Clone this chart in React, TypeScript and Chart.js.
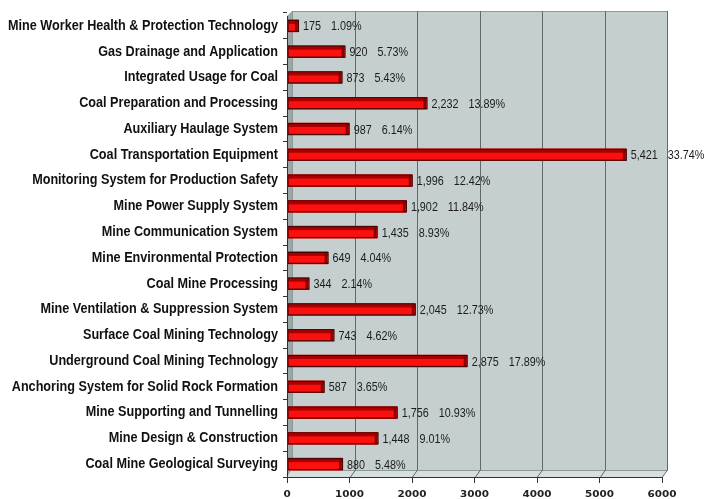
import React, { useEffect, useRef } from "react";
import { Chart, registerables } from "chart.js";
Chart.register(...registerables);

const categories = [
  "Mine Worker Health & Protection Technology",
  "Gas Drainage and Application",
  "Integrated Usage for Coal",
  "Coal Preparation and Processing",
  "Auxiliary Haulage System",
  "Coal Transportation Equipment",
  "Monitoring System for Production Safety",
  "Mine Power Supply System",
  "Mine Communication System",
  "Mine Environmental Protection",
  "Coal Mine Processing",
  "Mine Ventilation & Suppression System",
  "Surface Coal Mining Technology",
  "Underground Coal Mining Technology",
  "Anchoring System for Solid Rock Formation",
  "Mine Supporting and Tunnelling",
  "Mine Design & Construction",
  "Coal Mine Geological Surveying",
];
const values = [175, 920, 873, 2232, 987, 5421, 1996, 1902, 1435, 649, 344, 2045, 743, 2875, 587, 1756, 1448, 880];
const percents = ["1.09%", "5.73%", "5.43%", "13.89%", "6.14%", "33.74%", "12.42%", "11.84%", "8.93%", "4.04%", "2.14%", "12.73%", "4.62%", "17.89%", "3.65%", "10.93%", "9.01%", "5.48%"];
const xTicks = [0, 1000, 2000, 3000, 4000, 5000, 6000];

const SANS = '"Liberation Sans", Arial, sans-serif';
const DEPTH_X = 5;
const DEPTH_Y = 7;
const LABEL_RIGHT = 278;
const LABEL_WIDTH = 270;

const wallPlugin = {
  id: "wall",
  beforeDatasetsDraw(chart: any) {
    const { ctx, chartArea, scales } = chart;
    const { left: L, right: R, top: T, bottom: B } = chartArea;
    ctx.save();
    // back wall
    ctx.fillStyle = "#c5cfcf";
    ctx.fillRect(L + DEPTH_X, T - 2, R - L, B - DEPTH_Y - T + 2);
    // left side
    ctx.fillStyle = "#9ba7a7";
    ctx.beginPath();
    ctx.moveTo(L, T + 3);
    ctx.lineTo(L + DEPTH_X, T - 2);
    ctx.lineTo(L + DEPTH_X, B - DEPTH_Y);
    ctx.lineTo(L, B);
    ctx.closePath();
    ctx.fill();
    // floor
    ctx.fillStyle = "#d6dede";
    ctx.beginPath();
    ctx.moveTo(L, B);
    ctx.lineTo(L + DEPTH_X, B - DEPTH_Y);
    ctx.lineTo(R + DEPTH_X, B - DEPTH_Y);
    ctx.lineTo(R, B);
    ctx.closePath();
    ctx.fill();
    // wall border
    ctx.strokeStyle = "#8d9999";
    ctx.lineWidth = 1;
    ctx.strokeRect(L + DEPTH_X + 0.5, T - 2 + 0.5, R - L, B - DEPTH_Y - T + 2);
    // grid lines
    ctx.strokeStyle = "#5f6a6a";
    xTicks.forEach((v) => {
      if (v === 0) return;
      const x = Math.round(scales.x.getPixelForValue(v)) + 0.5;
      ctx.beginPath();
      ctx.moveTo(x + DEPTH_X, T - 2);
      ctx.lineTo(x + DEPTH_X, B - DEPTH_Y);
      ctx.lineTo(x, B);
      ctx.stroke();
    });
    // axes
    ctx.strokeStyle = "#333";
    ctx.beginPath();
    ctx.moveTo(L + 0.5, T + 3);
    ctx.lineTo(L + 0.5, B + 0.5);
    ctx.lineTo(R, B + 0.5);
    ctx.stroke();
    ctx.restore();
  },
  afterDatasetsDraw(chart: any) {
    const { ctx, scales } = chart;
    const meta = chart.getDatasetMeta(0);
    ctx.save();
    // 3D faces of bars
    meta.data.forEach((el: any) => {
      const top = el.y - el.height / 2;
      const bot = el.y + el.height / 2;
      const x0 = el.base;
      const x1 = el.x;
      ctx.fillStyle = "#a80000";
      ctx.fillRect(x0 + 1, top + 1, x1 - x0 - 1, 3);
      ctx.fillStyle = "#8a0000";
      ctx.fillRect(x1 - 3, top + 1, 2.5, bot - top - 1.5);
      ctx.strokeStyle = "#4a0303";
      ctx.lineWidth = 1.2;
      ctx.strokeRect(x0 + 0.5, top + 0.5, x1 - x0, bot - top - 1);
    });
    // value labels
    ctx.font = "13px " + SANS;
    ctx.fillStyle = "#1c1c1c";
    ctx.textBaseline = "middle";
    const f = 0.83;
    meta.data.forEach((el: any, i: number) => {
      const txt = values[i].toLocaleString("en-US");
      const x = el.x + 5;
      ctx.save();
      ctx.translate(x, el.y + 1);
      ctx.scale(f, 1);
      ctx.fillText(txt, 0, 0);
      const w = ctx.measureText(txt).width;
      ctx.fillText(percents[i], w + 12, 0);
      ctx.restore();
    });
    ctx.restore();
  },
  afterDraw(chart: any) {
    const { ctx, scales } = chart;
    ctx.save();
    // category labels (condensed bold)
    ctx.font = "bold 14px " + SANS;
    ctx.fillStyle = "#111";
    ctx.textAlign = "right";
    ctx.textBaseline = "middle";
    let maxW = 0;
    categories.forEach((c) => (maxW = Math.max(maxW, ctx.measureText(c).width)));
    const f = LABEL_WIDTH / maxW;
    categories.forEach((c, i) => {
      const y = scales.y.getPixelForValue(i);
      ctx.save();
      ctx.translate(LABEL_RIGHT, y);
      ctx.scale(f, 1);
      ctx.fillText(c, 0, 0);
      ctx.restore();
    });
    // x tick labels (wide bold)
    ctx.font = "bold 8px " + '"DejaVu Sans", sans-serif';
    ctx.fillStyle = "#222";
    ctx.textAlign = "center";
    xTicks.forEach((v) => {
      const x = scales.x.getPixelForValue(v);
      ctx.save();
      ctx.translate(x, 495);
      ctx.scale(1.3, 1);
      ctx.fillText(String(v), 0, 0);
      ctx.restore();
    });
    ctx.restore();
  },
};

export default function App() {
  const ref = useRef<HTMLCanvasElement>(null);
  useEffect(() => {
    document.body.style.margin = "0";
    const chart = new Chart(ref.current!, {
      type: "bar",
      data: {
        labels: categories,
        datasets: [
          {
            data: values,
            backgroundColor: "#fb1010",
            borderWidth: 0,
            barThickness: 12,
          },
        ],
      },
      options: {
        indexAxis: "y",
        animation: false,
        responsive: false,
        layout: { padding: { left: 0, top: 13, right: 45, bottom: 0 } },
        plugins: { legend: { display: false }, tooltip: { enabled: false } },
        scales: {
          x: {
            min: 0,
            max: 6000,
            afterBuildTicks: (s: any) => {
              s.ticks = xTicks.map((v) => ({ value: v }));
            },
            afterFit: (s: any) => {
              s.height = 22;
            },
            border: { display: false },
            grid: { drawOnChartArea: false, tickLength: 6, color: "#333" },
            ticks: { display: false },
          },
          y: {
            afterFit: (s: any) => {
              s.width = 287;
            },
            border: { display: false },
            grid: { drawOnChartArea: false, tickLength: 4, color: "#333", offset: true },
            ticks: { display: false, autoSkip: false },
          },
        },
      },
      plugins: [wallPlugin],
    } as any);
    return () => chart.destroy();
  }, []);
  return <canvas ref={ref} width={707} height={499} style={{ display: "block" }} />;
}
